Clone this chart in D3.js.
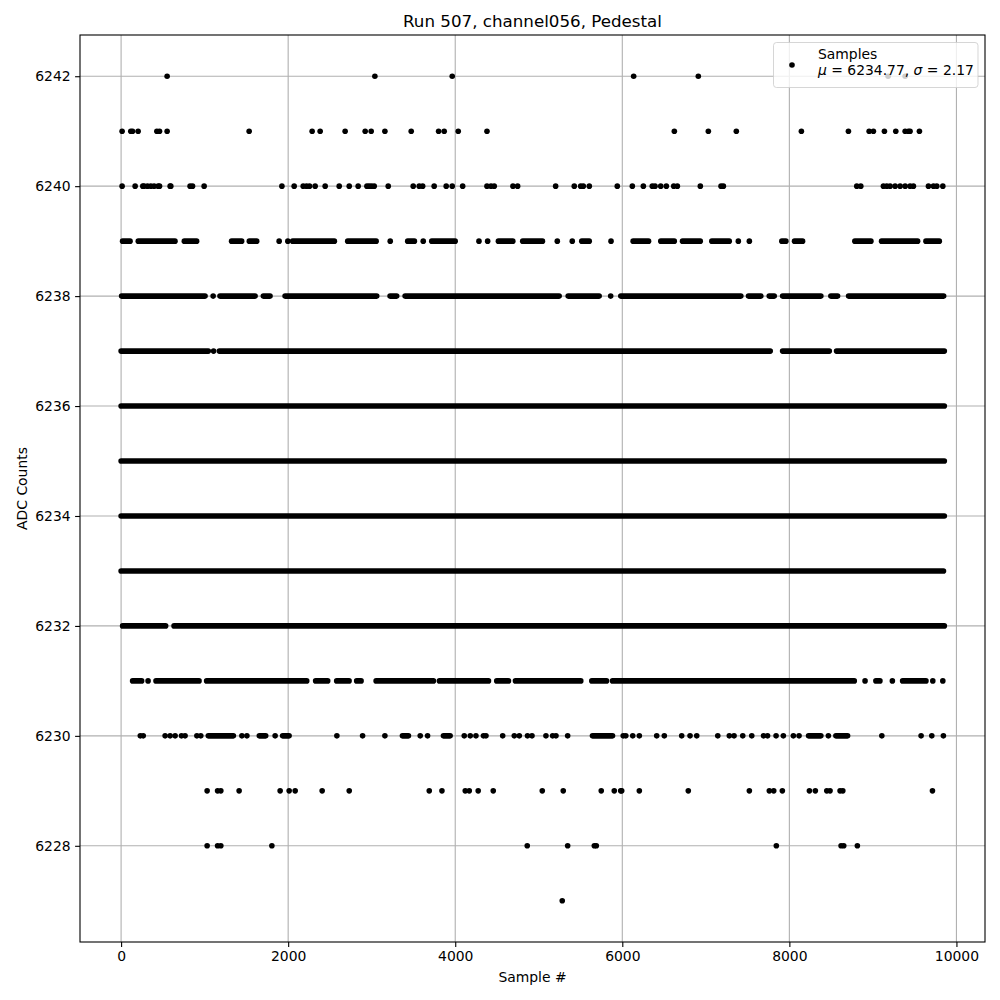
<!DOCTYPE html>
<html><head><meta charset="utf-8">
<script src="https://cdn.jsdelivr.net/npm/d3@7"></script>
<style>body{margin:0;background:#fff}svg{display:block}text{font-family:"DejaVu Sans",sans-serif;fill:#000}</style>
</head><body><svg id="c" width="1000" height="1000"></svg>
<script>
// ADC levels and the sample indices found at each level.
// A number is one sample; a pair [a,b] is a run of consecutive samples at that level.
const levels = [6242,6241,6240,6239,6238,6237,6236,6235,6234,6233,6232,6231,6230,6229,6228,6227];
const l6242 = [551,3038,3964,6136,6910,9182,9386];
const l6241 = [12,116,137,204,428,460,551,1533,2287,2383,2682,2922,2994,3158,3473,3801,3868,4036,4380,6623,7030,7365,8144,8707,8955,9006,9138,9274,9386,9425,9445,9557];
const l6240 = [12,168,260,275,316,356,395,443,460,587,595,826,855,994,1925,2072,2180,2220,2256,2323,2443,2611,2731,2838,2943,2970,2999,3030,3198,3497,3569,3610,3748,3892,3964,4089,4380,4428,4467,4691,4747,5202,5425,5502,5533,5605,5940,6120,6252,6359,6392,6460,6527,6616,6659,6934,7182,7210,8807,8855,9126,9166,9206,9266,9326,9386,9445,9485,9665,9725,9765,9837];
const l6239 = [[18,107],[206,645],[757,904],[1323,1443],[1535,1623],1892,1996,[2054,2553],[2713,3053],3222,[3431,3511],3617,[3719,3999],4284,4388,[4517,4689],[4808,5044],5222,5401,[5515,5604],5865,[6130,6314],[6461,6622],[6721,6933],[7072,7280],7389,7521,[7910,7958],[8062,8158],[8784,8976],[9104,9535],[9635,9795]];
const l6238 = [[6,1005],1102,[1184,1604],[1703,1783],[1963,3060],[3220,3299],[3400,5244],[5352,5723],5861,[5982,7419],[7511,7659],[7759,7819],[7919,8377],[8497,8577],[8709,9847]];
const l6237 = [[0,1044],1107,[1176,7771],[7919,8478],[8565,9855]];
const l6236 = [[0,9855]];
const l6235 = [[0,9855]];
const l6234 = [[0,9855]];
const l6233 = [[0,9845]];
const l6232 = [[18,533],[634,9855]];
const l6231 = [[138,246],323,[418,933],[1024,2222],[2329,2473],[2581,2729],[2820,2873],[3053,3739],[3811,4398],[4497,4637],[4721,5503],[5635,5811],[5883,8777],8906,[9036,9084],9233,[9356,9635],9717,9837];
const l6230 = [230,265,527,587,647,723,766,907,954,[1044,1344],1446,1506,[1655,1731],1844,[1934,2011],2583,2891,3158,[3368,3440],3581,3669,[3859,3939],4108,4180,4248,4338,4368,4568,4707,4767,4865,4919,5086,5166,5206,5346,[5643,5883],6011,6042,6125,6204,6412,6503,6711,6811,6891,7143,7281,7338,7442,7550,7691,7739,7841,7928,8048,8116,[8230,8377],8467,[8557,8697],9107,9577,9705,9844];
const l6229 = [1030,1155,1194,1413,1904,2012,2084,2407,2731,3689,3841,4120,4168,4275,4455,5042,5293,5748,5904,5981,5993,6204,6790,7521,7760,7813,7916,8240,8311,8448,8487,8607,8640,9713];
const l6228 = [1030,1155,1194,1805,4862,5346,5665,5689,7844,8619,8651,8814];
const l6227 = [5281];
const levelData = [l6242,l6241,l6240,l6239,l6238,l6237,l6236,l6235,l6234,l6233,l6232,l6231,l6230,l6229,l6228,l6227];

const xTicks = [0,2000,4000,6000,8000,10000];
const yTicks = [6228,6230,6232,6234,6236,6238,6240,6242];
const xDomain = [-492, 10342];
const yDomain = [6226.25, 6242.75];
const title = "Run 507, channel056, Pedestal";
const xLabel = "Sample #";
const yLabel = "ADC Counts";
const legendName = "Samples";
const mu = "6234.77", sigma = "2.17";

const L = 80, R = 985, T = 35, B = 942, rad = 2.8;
const svg = d3.select("#c");
const x = d3.scaleLinear().domain(xDomain).range([L, R]);
const y = d3.scaleLinear().domain(yDomain).range([B, T]);

// grid
const grid = svg.append("g").attr("stroke", "#b0b0b0").attr("stroke-width", 1.1);
grid.selectAll(".gx").data(xTicks).join("line")
  .attr("x1", d => x(d)).attr("x2", d => x(d)).attr("y1", T).attr("y2", B);
grid.selectAll(".gy").data(yTicks).join("line")
  .attr("y1", d => y(d)).attr("y2", d => y(d)).attr("x1", L).attr("x2", R);

// points
const rows = levels.map((lv, i) => ({lv, items: levelData[i]}));
const pg = svg.append("g");
rows.forEach(r => {
  const singles = r.items.filter(d => typeof d === "number");
  const runs = r.items.filter(d => Array.isArray(d));
  pg.selectAll(null).data(runs).join("line")
    .attr("x1", d => x(d[0])).attr("x2", d => x(d[1]))
    .attr("y1", y(r.lv)).attr("y2", y(r.lv))
    .attr("stroke", "#000").attr("stroke-width", rad * 2).attr("stroke-linecap", "round");
  pg.selectAll(null).data(singles).join("circle")
    .attr("cx", d => x(d)).attr("cy", y(r.lv)).attr("r", rad).attr("fill", "#000");
});

// axes
const xAxis = d3.axisBottom(x).tickValues(xTicks).tickFormat(d3.format("d")).tickSize(4.9).tickPadding(4.5);
const yAxis = d3.axisLeft(y).tickValues(yTicks).tickFormat(d3.format("d")).tickSize(4.9).tickPadding(4.5);
const gx = svg.append("g").attr("transform", `translate(0,${B})`).call(xAxis);
const gy = svg.append("g").attr("transform", `translate(${L},0)`).call(yAxis);
[gx, gy].forEach(g => {
  g.select(".domain").remove();
  g.selectAll(".tick line").attr("stroke", "#000").attr("stroke-width", 1.1);
  g.selectAll(".tick text").attr("font-size", "13.9px").attr("font-family", "DejaVu Sans").attr("fill", "#000");
});
svg.append("rect").attr("x", L).attr("y", T).attr("width", R - L).attr("height", B - T)
  .attr("fill", "none").attr("stroke", "#000").attr("stroke-width", 1.1);

// labels
svg.append("text").attr("x", (L + R) / 2).attr("y", 27).attr("text-anchor", "middle")
  .attr("font-size", "16.7px").text(title);
svg.append("text").attr("x", (L + R) / 2).attr("y", 982).attr("text-anchor", "middle")
  .attr("font-size", "13.9px").text(xLabel);
svg.append("text").attr("transform", `translate(27,${(T + B) / 2}) rotate(-90)`).attr("text-anchor", "middle")
  .attr("font-size", "13.9px").text(yLabel);

// legend
const lg = svg.append("g");
lg.append("rect").attr("x", 773.5).attr("y", 42.5).attr("width", 204.5).attr("height", 45).attr("rx", 3)
  .attr("fill", "#fff").attr("fill-opacity", 0.8).attr("stroke", "#cccccc").attr("stroke-opacity", 0.8);
lg.append("circle").attr("cx", 792).attr("cy", 65).attr("r", rad).attr("fill", "#000");
lg.append("text").attr("x", 818).attr("y", 59).attr("font-size", "13.9px").text(legendName);
const t2 = lg.append("text").attr("x", 818).attr("y", 75).attr("font-size", "13.9px");
t2.append("tspan").attr("font-style", "italic").text("μ");
t2.append("tspan").text(" = " + mu + ", ");
t2.append("tspan").attr("font-style", "italic").text("σ");
t2.append("tspan").text(" = " + sigma);
</script></body></html>
